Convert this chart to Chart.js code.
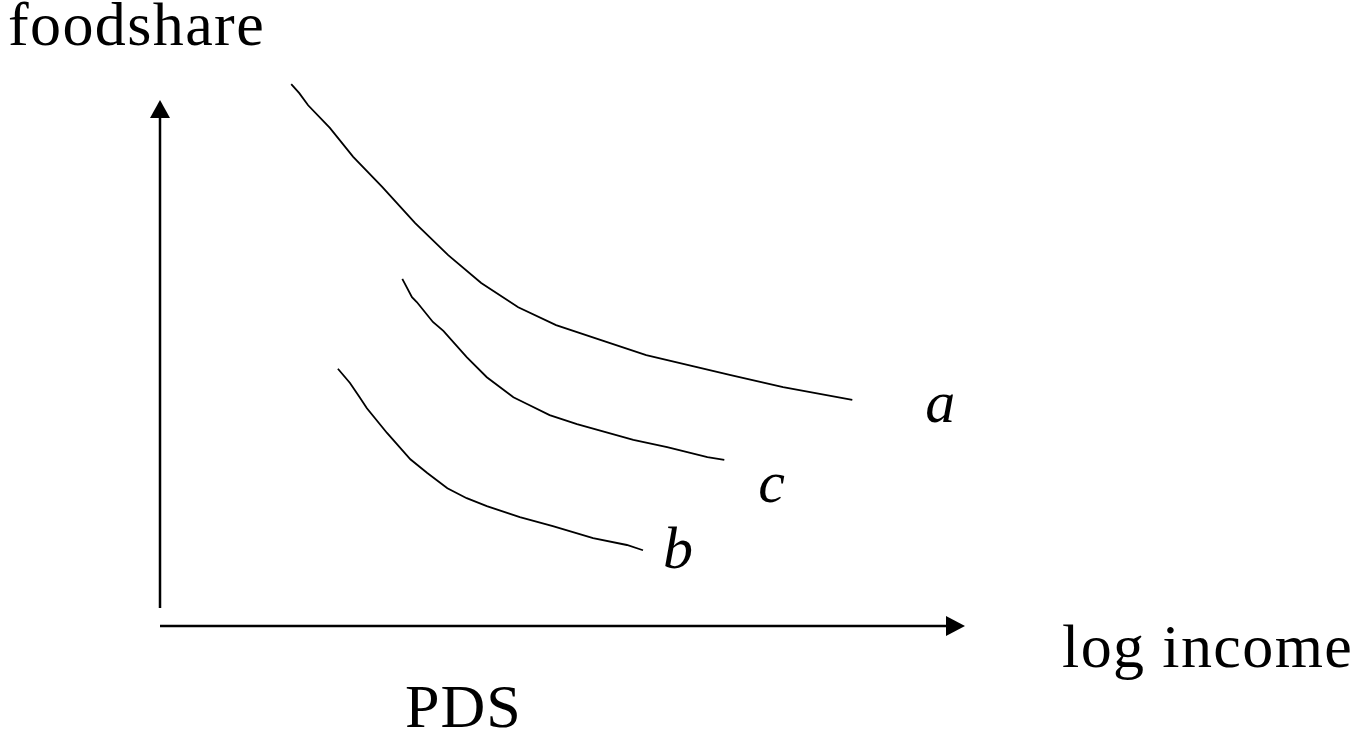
<!DOCTYPE html>
<html>
<head>
<meta charset="utf-8">
<script src="https://cdn.jsdelivr.net/npm/chart.js@4/dist/chart.umd.min.js"></script>
<style>
    html, body { margin: 0; padding: 0; background: #ffffff; }
    #wrap { width: 1361px; height: 734px; }
</style>
</head>
<body>
<div id="wrap"><canvas id="pdsChart" width="1361" height="734"></canvas></div>
<script>
/* PDS schematic: foodshare against log income, three curves */
const curveNames = ["a", "c", "b"];

const curveA = [
    {x: 1.63, y: 10.30}, {x: 1.73, y: 10.13}, {x: 1.84, y: 9.90}, {x: 2.11, y: 9.47},
    {x: 2.40, y: 8.92}, {x: 2.76, y: 8.35}, {x: 3.17, y: 7.66}, {x: 3.58, y: 7.05},
    {x: 3.99, y: 6.52}, {x: 4.45, y: 6.06}, {x: 4.92, y: 5.72}, {x: 5.47, y: 5.44},
    {x: 6.04, y: 5.15}, {x: 6.67, y: 4.92}, {x: 7.09, y: 4.77}, {x: 7.74, y: 4.54},
    {x: 8.60, y: 4.30}
];

const curveC = [
    {x: 3.01, y: 6.60}, {x: 3.13, y: 6.25}, {x: 3.19, y: 6.16}, {x: 3.39, y: 5.78},
    {x: 3.52, y: 5.61}, {x: 3.81, y: 5.11}, {x: 4.06, y: 4.73}, {x: 4.39, y: 4.35},
    {x: 4.56, y: 4.22}, {x: 4.84, y: 4.01}, {x: 5.18, y: 3.84}, {x: 5.88, y: 3.54},
    {x: 6.30, y: 3.40}, {x: 6.80, y: 3.21}, {x: 7.01, y: 3.16}
];

const curveB = [
    {x: 2.21, y: 4.89}, {x: 2.36, y: 4.62}, {x: 2.48, y: 4.35}, {x: 2.57, y: 4.14},
    {x: 2.82, y: 3.67}, {x: 3.11, y: 3.17}, {x: 3.32, y: 2.91}, {x: 3.57, y: 2.62},
    {x: 3.81, y: 2.43}, {x: 4.06, y: 2.28}, {x: 4.47, y: 2.07}, {x: 4.88, y: 1.90},
    {x: 5.38, y: 1.67}, {x: 5.80, y: 1.54}, {x: 6.00, y: 1.44}
];

const yAxisTitle = "foodshare";
const xAxisTitle = "log income";
const chartTitle = "PDS";

// offsets of the curve letters from each curve's last point
const letterOffsets = {a: [73, 22], c: [34, 42], b: [20, 18]};

const serif = "'Liberation Serif', 'Times New Roman', serif";

const axesAndLabels = {
    id: "axesAndLabels",
    afterDatasetsDraw(chart) {
        const ctx = chart.ctx;
        const xs = chart.scales.x;
        const ys = chart.scales.y;
        const x0 = xs.getPixelForValue(0);
        const y0 = ys.getPixelForValue(0);
        const xTip = xs.getPixelForValue(10);
        const yTip = ys.getPixelForValue(10);

        ctx.save();
        ctx.strokeStyle = "#000";
        ctx.fillStyle = "#000";
        ctx.lineWidth = 2.5;

        // vertical axis (stops a little short of the horizontal one)
        ctx.beginPath();
        ctx.moveTo(x0, ys.getPixelForValue(0.34));
        ctx.lineTo(x0, yTip + 12);
        ctx.stroke();
        ctx.beginPath();
        ctx.moveTo(x0, yTip);
        ctx.lineTo(x0 - 10, yTip + 18);
        ctx.lineTo(x0 + 10, yTip + 18);
        ctx.closePath();
        ctx.fill();

        // horizontal axis
        ctx.beginPath();
        ctx.moveTo(x0, y0);
        ctx.lineTo(xTip - 12, y0);
        ctx.stroke();
        ctx.beginPath();
        ctx.moveTo(xTip, y0);
        ctx.lineTo(xTip - 19, y0 - 10);
        ctx.lineTo(xTip - 19, y0 + 10);
        ctx.closePath();
        ctx.fill();

        // titles
        ctx.textAlign = "left";
        ctx.textBaseline = "alphabetic";
        ctx.font = "62px " + serif;
        ctx.letterSpacing = "1.4px";
        ctx.fillText(yAxisTitle, 8, 45);
        ctx.fillText(xAxisTitle, xTip + 97, y0 + 41);
        ctx.letterSpacing = "1px";
        ctx.fillText(chartTitle, 405, y0 + 101);

        // curve letters
        ctx.letterSpacing = "0px";
        ctx.font = "italic 60px " + serif;
        chart.data.datasets.forEach(function (ds, i) {
            const pts = chart.getDatasetMeta(i).data;
            const last = pts[pts.length - 1];
            const off = letterOffsets[ds.label];
            ctx.fillText(ds.label, last.x + off[0], last.y + off[1]);
        });
        ctx.restore();
    }
};

new Chart(document.getElementById("pdsChart"), {
    type: "scatter",
    data: {
        datasets: [curveA, curveC, curveB].map(function (pts, i) {
            return {
                label: curveNames[i],
                data: pts,
                showLine: true,
                borderColor: "#000000",
                borderWidth: 1.8,
                pointRadius: 0,
                tension: 0,
                clip: false
            };
        })
    },
    options: {
        responsive: false,
        animation: false,
        layout: {
            padding: {left: 160, right: 396, top: 100, bottom: 108}
        },
        plugins: {
            legend: {display: false},
            tooltip: {enabled: false}
        },
        scales: {
            x: {type: "linear", min: 0, max: 10, display: false},
            y: {type: "linear", min: 0, max: 10, display: false}
        }
    },
    plugins: [axesAndLabels]
});
</script>
</body>
</html>
